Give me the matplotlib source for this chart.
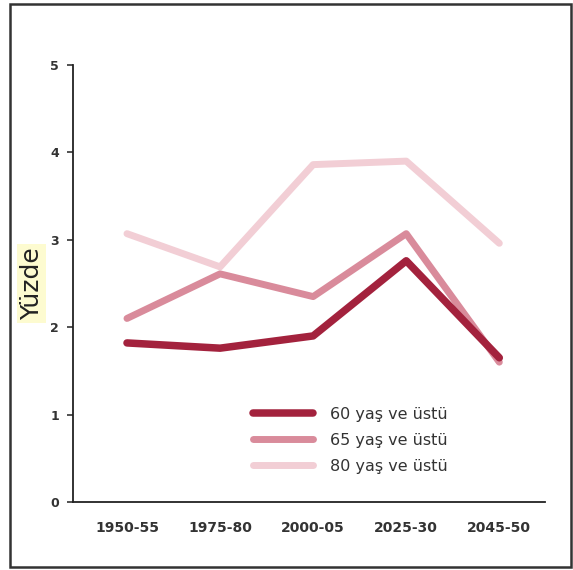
import matplotlib.pyplot as plt
from matplotlib.patches import Rectangle

periods = ['1950-55', '1975-80', '2000-05', '2025-30', '2045-50']
age60 = [1.82, 1.76, 1.90, 2.76, 1.65]
age65 = [2.10, 2.61, 2.35, 3.07, 1.60]
age80 = [3.07, 2.69, 3.86, 3.90, 2.96]
series_labels = ['60 yaş ve üstü', '65 yaş ve üstü', '80 yaş ve üstü']

fig = plt.figure(figsize=(5.73, 5.70), dpi=100)
ax = fig.add_axes([0.1274, 0.1193, 0.8236, 0.7667])

x = list(range(len(periods)))
ax.plot(x, age60, color='#a3223d', lw=5.4, solid_capstyle='round', zorder=5, label=series_labels[0])
ax.plot(x, age65, color='#d98b9b', lw=5.0, solid_capstyle='round', zorder=4, label=series_labels[1])
ax.plot(x, age80, color='#f2ced5', lw=5.0, solid_capstyle='round', zorder=3, label=series_labels[2])

ax.set_xlim(-0.58, 4.49)
ax.set_ylim(0, 5)
ax.set_yticks([0, 1, 2, 3, 4, 5])
ax.set_xticks(x)
ax.set_xticklabels(periods)
for s in ['top', 'right']:
    ax.spines[s].set_visible(False)
for s in ['left', 'bottom']:
    ax.spines[s].set_linewidth(1.3)
    ax.spines[s].set_color('#222222')
ax.tick_params(axis='y', length=4, width=1.2, pad=6, labelsize=9, colors='#333333')
ax.tick_params(axis='x', length=0, pad=14, labelsize=10, colors='#333333')
for lbl in ax.get_xticklabels() + ax.get_yticklabels():
    lbl.set_fontweight('bold')

ax.set_ylabel('Yüzde', fontsize=18, color='#222222',
              bbox=dict(facecolor='#fdfbd0', edgecolor='none', pad=2))
ax.yaxis.set_label_coords(-0.062, 0.5)

leg = ax.legend(loc='upper left', bbox_to_anchor=(0.35, 0.251), frameon=False,
                handlelength=3.8, handletextpad=1.05, labelspacing=0.7,
                prop={'size': 11.5})
for t in leg.get_texts():
    t.set_color('#333333')

# outer frame
fig.patches.append(Rectangle((0.0175, 0.005), 0.979, 0.988, transform=fig.transFigure,
                             fill=False, edgecolor='#333333', lw=1.8))

fig.savefig('out.png', dpi=100)
